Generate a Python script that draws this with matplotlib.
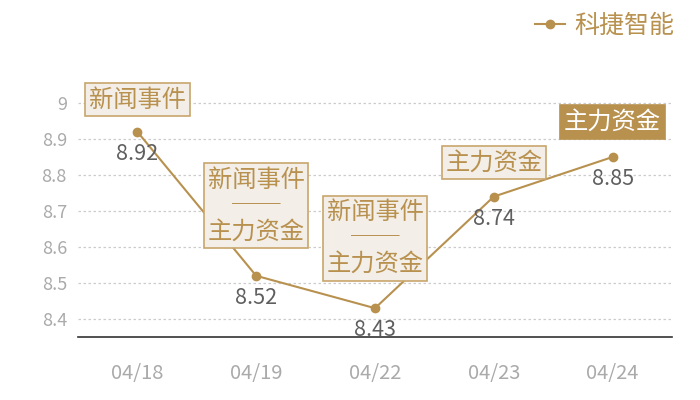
import matplotlib
matplotlib.use("Agg")
import matplotlib.pyplot as plt

plt.rcParams['font.family'] = ['Noto Sans CJK SC', 'DejaVu Sans']

dates = ['04/18', '04/19', '04/22', '04/23', '04/24']
prices = [8.92, 8.52, 8.43, 8.74, 8.85]
events = ['新闻事件', '新闻事件\n──\n主力资金', '新闻事件\n──\n主力资金', '主力资金', '主力资金']
series_name = '科捷智能'

gold = '#b8914f'
box_fill = '#f3efe8'
box_edge = '#c8a66c'

fig = plt.figure(figsize=(7, 4), dpi=100)
ax = fig.add_axes([78 / 700, 1 - 337 / 400, 594 / 700, 270 / 400])

x = list(range(len(dates)))
ax.plot(x, prices, color=gold, lw=1.5, marker='o', ms=6, label=series_name, zorder=3)

ax.set_xlim(-0.5, len(dates) - 0.5)
ax.set_ylim(8.35, 9.1)
ax.set_yticks([8.4, 8.5, 8.6, 8.7, 8.8, 8.9, 9.0])
ax.set_yticklabels(['8.4', '8.5', '8.6', '8.7', '8.8', '8.9', '9'])
ax.set_xticks(x)
ax.set_xticklabels(dates)
ax.tick_params(axis='both', length=0, colors='#aaaaaa', labelsize=13)
ax.tick_params(axis='x', pad=19, labelsize=14.5)
ax.tick_params(axis='y', pad=8)
ax.grid(axis='y', color='#cccccc', ls=(0, (2, 2)), lw=0.9)
for s in ['top', 'right', 'left']:
    ax.spines[s].set_visible(False)
ax.spines['bottom'].set_color('#333333')
ax.spines['bottom'].set_linewidth(1.2)

# value labels under the points
for i, v in enumerate(prices):
    ax.annotate(f'{v:.2f}', (i, v), xytext=(0, -11), textcoords='offset pixels',
                ha='center', va='top', fontsize=15.5, color='#5f5f5f',
                fontweight='light', zorder=4)

# event boxes above the points
offsets = [32, 70, 70, 34, 35]
for i, (v, txt, off) in enumerate(zip(prices, events, offsets)):
    last = i == len(prices) - 1
    ax.annotate(txt, (i, v), xytext=(0, off), textcoords='offset pixels',
                ha='center', va='center', fontsize=17.5, linespacing=1.0,
                color='white' if last else gold, zorder=5,
                bbox=dict(boxstyle='square,pad=0.15', fc=gold if last else box_fill,
                          ec=gold if last else box_edge, lw=1.2))

leg = fig.legend(loc='upper right', bbox_to_anchor=(0.995, 1.025), frameon=False,
                 fontsize=18, handlelength=1.2, handletextpad=0.35)
for t in leg.get_texts():
    t.set_color(gold)
    t.set_fontweight('light')

fig.savefig('out.png', dpi=100)
